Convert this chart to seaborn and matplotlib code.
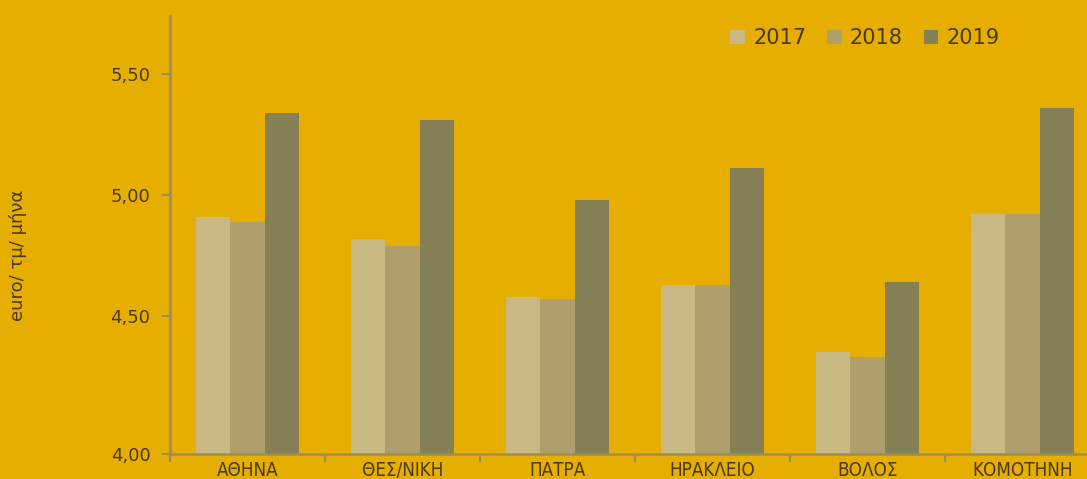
import pandas as pd
import seaborn as sns
import matplotlib.pyplot as plt
from matplotlib.ticker import FixedLocator

# values (euro / sq.m / month)
cities = ['ΑΘΗΝΑ', 'ΘΕΣ/ΝΙΚΗ', 'ΠΑΤΡΑ', 'ΗΡΑΚΛΕΙΟ', 'ΒΟΛΟΣ', 'ΚΟΜΟΤΗΝΗ']
years = ['2017', '2018', '2019']
v2017 = [4.91, 4.82, 4.58, 4.63, 4.35, 4.92]
v2018 = [4.89, 4.79, 4.57, 4.63, 4.33, 4.92]
v2019 = [5.34, 5.31, 4.98, 5.11, 4.64, 5.36]

df = pd.DataFrame({'city': cities * 3,
                   'year': [y for y in years for _ in cities],
                   'value': v2017 + v2018 + v2019})

bg = '#E5AE00'
txt = '#4A3A0E'
spine = '#9C8C5C'
pal = ['#C8B985', '#AE9F6D', '#858055']

plt.rcParams['font.family'] = ['DejaVu Sans']
fig = plt.figure(figsize=(10.87, 4.79), dpi=100, facecolor=bg)
ax = fig.add_axes([0.1564, 0.0522, 0.8556, 0.9144])
ax.set_facecolor(bg)

sns.barplot(data=df, x='city', y='value', hue='year', palette=pal,
            saturation=1, width=0.66, gap=0, linewidth=0, ax=ax)

# the original axis is not linear at the bottom; the lowest label sits at the floor
ax.set_ylim(3.93, 5.74)
ax.set_xlim(-0.5, 5.5)
ax.set_yticks([3.93, 4.5, 5.0, 5.5])
ax.set_yticklabels(['4,00', '4,50', '5,00', '5,50'])
ax.tick_params(axis='y', colors=spine, labelcolor=txt, labelsize=13,
               length=6, width=1.5, pad=8)

ax.set_xticks(range(len(cities)))
ax.set_xticklabels(cities, fontstretch='condensed')
ax.tick_params(axis='x', which='major', length=0, labelcolor=txt,
               labelsize=13.5, pad=5)
ax.xaxis.set_minor_locator(FixedLocator([i - 0.5 for i in range(len(cities) + 1)]))
ax.tick_params(axis='x', which='minor', length=6, width=1.5, color=spine)

for s in ['top', 'right']:
    ax.spines[s].set_visible(False)
for s in ['left', 'bottom']:
    ax.spines[s].set_color(spine)
    ax.spines[s].set_linewidth(1.8)

ax.set_xlabel('')
ax.set_ylabel('')
fig.text(0.017, 0.466, 'euro/ τμ/ μήνα', rotation=90, color=txt,
         fontsize=13, ha='center', va='center')

leg = ax.legend(loc='upper left', bbox_to_anchor=(0.589, 1.0), ncol=3,
                frameon=False, fontsize=15, handlelength=0.7,
                handleheight=0.7, handletextpad=0.4, columnspacing=1.0,
                borderaxespad=0.2)
for t in leg.get_texts():
    t.set_color(txt)

fig.savefig('out.png', dpi=100, facecolor=bg)
